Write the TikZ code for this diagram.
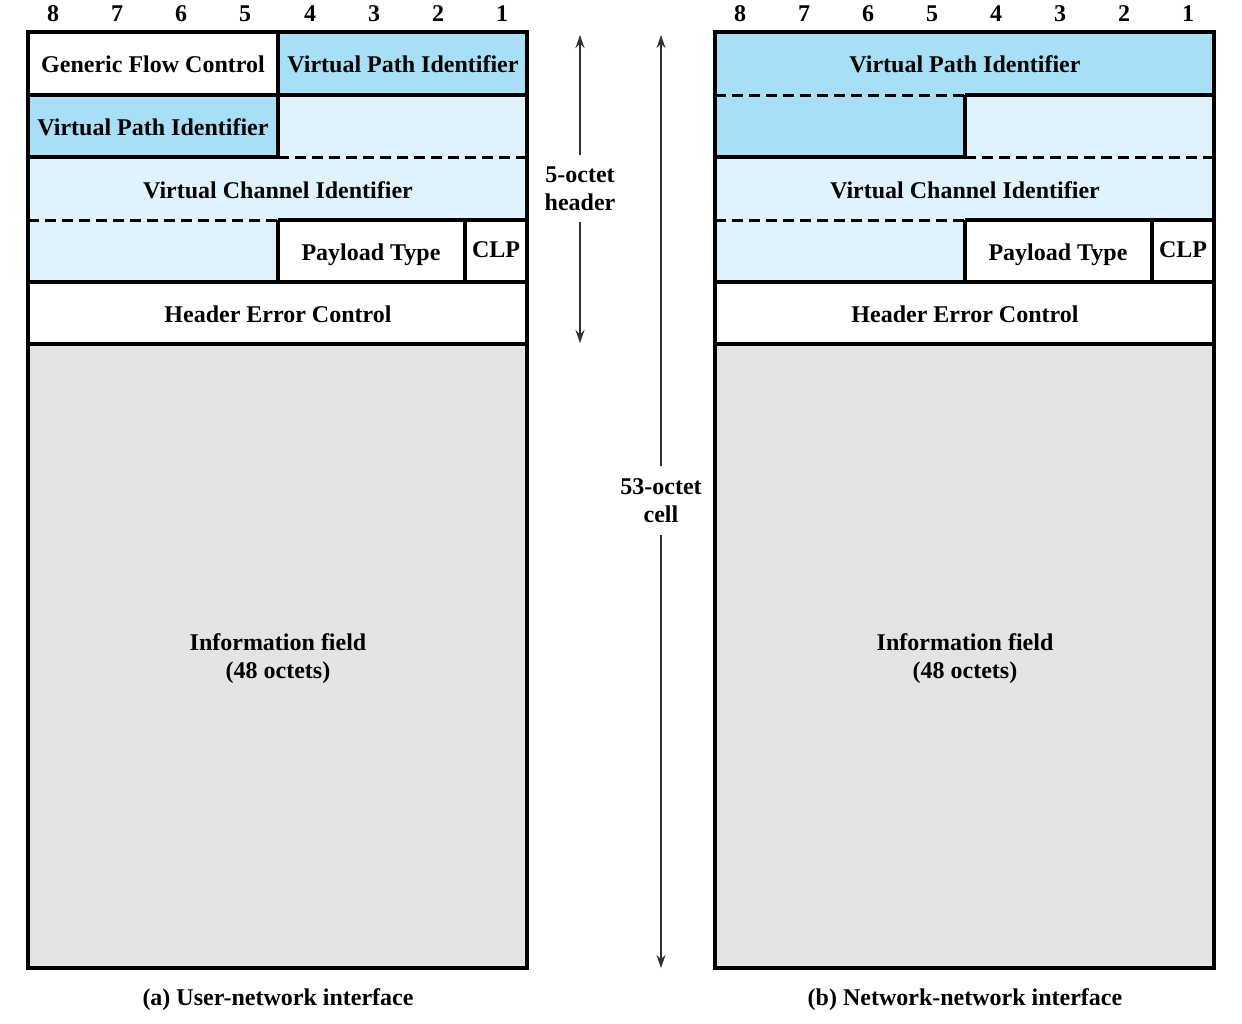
\documentclass[tikz,border=0pt]{standalone}
\usepackage{fontspec}
\setmainfont{Liberation Serif}
\usetikzlibrary{arrows.meta}
\definecolor{dblue}{RGB}{168,222,246}
\definecolor{lblue}{RGB}{224,243,252}
\definecolor{igray}{RGB}{228,228,228}
\definecolor{arrgray}{RGB}{50,50,50}
\begin{document}
\begin{tikzpicture}[x=1pt,y=-1pt,
  font=\fontsize{24}{28}\selectfont\bfseries,
  box/.style={line width=3.2pt},
  dsh/.style={line width=3pt,dash pattern=on 11pt off 6pt},
  lbl/.style={inner sep=0pt,text height=17pt,text depth=5pt},
  multi/.style={inner xsep=0pt,align=center},
  dim/.style={draw=arrgray,line width=1.2pt,-{Stealth[length=13pt,width=9pt]}}]
\useasboundingbox (0,0) rectangle (1242,1023);

% ---------------- left panel fills
\fill[white] (28,32) rectangle (278,95);
\fill[dblue] (278,32) rectangle (527,95);
\fill[dblue] (28,95) rectangle (278,157);
\fill[lblue] (278,95) rectangle (527,157);
\fill[lblue] (28,157) rectangle (527,220);
\fill[lblue] (28,220) rectangle (278,282);
\fill[igray] (28,344) rectangle (527,968);
% left panel lines
\draw[box] (28,95) -- (527,95);
\draw[box] (278,32) -- (278,157);
\draw[box] (28,157) -- (278,157);
\draw[dsh] (278,157) -- (527,157);
\draw[dsh] (28,220) -- (278,220);
\draw[box] (278,220) -- (527,220);
\draw[box] (278,220) -- (278,282);
\draw[box] (465,220) -- (465,282);
\draw[box] (28,282) -- (527,282);
\draw[box] (28,344) -- (527,344);
\draw[box] (28,32) rectangle (527,968);

% ---------------- right panel fills
\fill[dblue] (715,32) rectangle (1214,95);
\fill[dblue] (715,95) rectangle (965,157);
\fill[lblue] (965,95) rectangle (1214,157);
\fill[lblue] (715,157) rectangle (1214,220);
\fill[lblue] (715,220) rectangle (965,282);
\fill[white] (965,220) rectangle (1214,344);
\fill[igray] (715,344) rectangle (1214,968);
% right panel lines
\draw[dsh] (715,95) -- (965,95);
\draw[box] (965,95) -- (1214,95);
\draw[box] (965,95) -- (965,157);
\draw[box] (715,157) -- (965,157);
\draw[dsh] (965,157) -- (1214,157);
\draw[dsh] (715,220) -- (965,220);
\draw[box] (965,220) -- (1214,220);
\draw[box] (965,220) -- (965,282);
\draw[box] (1152,220) -- (1152,282);
\draw[box] (715,282) -- (1214,282);
\draw[box] (715,344) -- (1214,344);
\draw[box] (715,32) rectangle (1214,968);

% ---------------- bit numbers
\foreach \x/\b [count=\i] in {53/8,117/7,181/6,245/5,310/4,374/3,438/2,502/1}
  \node[lbl] (bl\i) at (\x,15) {\b};
\foreach \x/\b [count=\i] in {740/8,804/7,868/6,932/5,996/4,1060/3,1124/2,1188/1}
  \node[lbl] (br\i) at (\x,15) {\b};

% ---------------- left labels
\node[lbl] (gfc)  at (153,66)  {Generic Flow Control};
\node[lbl] (vpia) at (403,66)  {Virtual Path Identifier};
\node[lbl] (vpib) at (153,129) {Virtual Path Identifier};
\node[lbl] (vcil) at (278,192) {Virtual Channel Identifier};
\node[lbl] (ptl)  at (371,254) {Payload Type};
\node[lbl] (clpl) at (496,251) {CLP};
\node[lbl] (hecl) at (278,316) {Header Error Control};
\node[multi] (infl) at (278,659) {Information field\\(48 octets)};
\node[lbl] (capa) at (278,999) {(a) User-network interface};

% ---------------- right labels
\node[lbl] (vpir) at (965,66)  {Virtual Path Identifier};
\node[lbl] (vcir) at (965,192) {Virtual Channel Identifier};
\node[lbl] (ptr)  at (1058,254) {Payload Type};
\node[lbl] (clpr) at (1183,251) {CLP};
\node[lbl] (hecr) at (965,316) {Header Error Control};
\node[multi] (infr) at (965,659) {Information field\\(48 octets)};
\node[lbl] (capb) at (965,999) {(b) Network-network interface};

% ---------------- dimension arrows
\node[multi,inner ysep=11pt] (hdr) at (580,188.5) {5-octet\\header};
\coordinate (hdrtop) at (580,35);
\coordinate (hdrbot) at (580,343);
\draw[dim] (hdr.north) -- (hdrtop);
\draw[dim] (hdr.south) -- (hdrbot);

\node[multi,inner ysep=12pt] (cell) at (661,500.5) {53-octet\\cell};
\coordinate (celltop) at (661,35);
\coordinate (cellbot) at (661,968);
\draw[dim] (cell.north) -- (celltop);
\draw[dim] (cell.south) -- (cellbot);
\end{tikzpicture}
\end{document}
